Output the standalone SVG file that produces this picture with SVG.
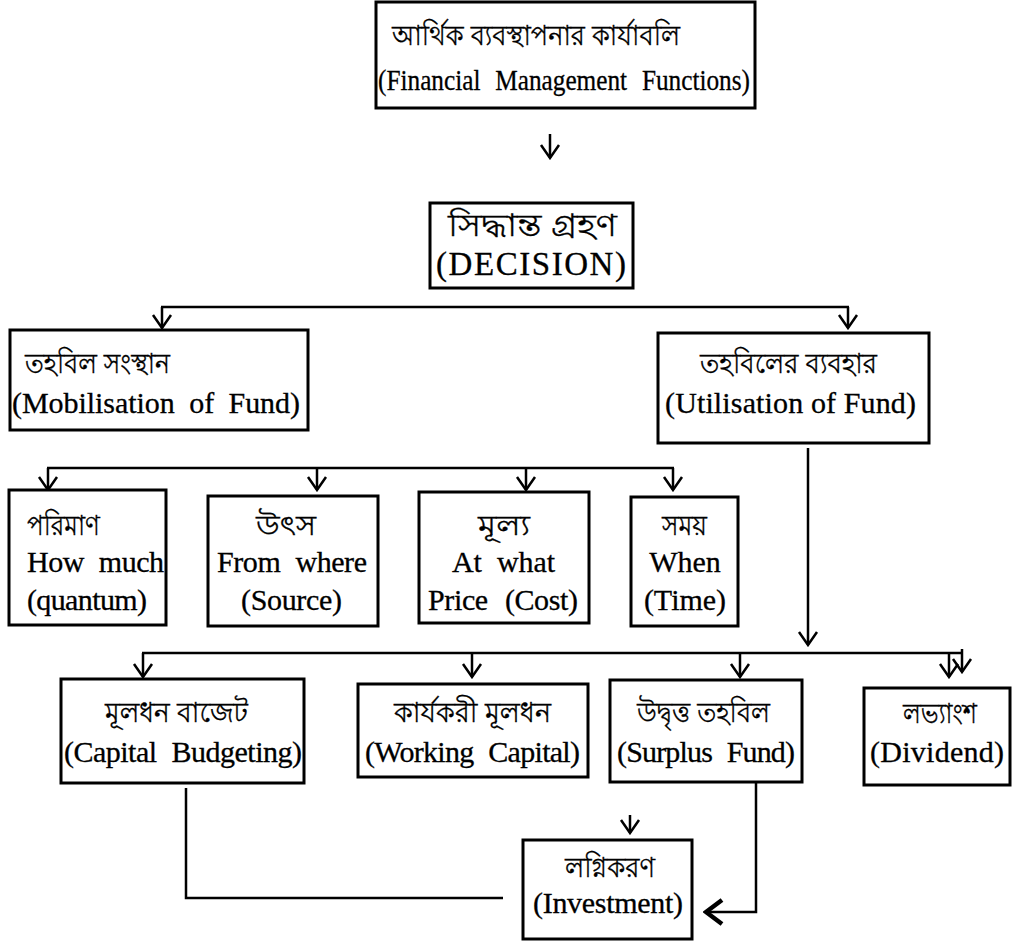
<svg xmlns="http://www.w3.org/2000/svg" width="1013" height="942" viewBox="0 0 1013 942">
<style>
.box{fill:#fff;stroke:#000;stroke-width:3}
.ln{fill:none;stroke:#000;stroke-width:2.5}
.en{font-family:'Liberation Serif','Times New Roman',serif;font-size:30px;fill:#000;stroke:#000;stroke-width:0.3}
.bn{font-family:'Lohit Bengali',sans-serif;font-size:28px;fill:#000;stroke:#000;stroke-width:0.3}
.c{text-anchor:middle}
</style>
<defs>
<marker id="arr" viewBox="-2 -2 17 22" refX="13" refY="9" markerWidth="17" markerHeight="22" markerUnits="userSpaceOnUse" orient="auto"><path d="M0,0 L13,9 L0,18" fill="none" stroke="#000" stroke-width="2.5"/></marker>
<marker id="arrb" viewBox="-3 -3 22 30" refX="16" refY="12" markerWidth="22" markerHeight="30" markerUnits="userSpaceOnUse" orient="auto"><path d="M0,0 L16,12 L0,24" fill="none" stroke="#000" stroke-width="4.5"/></marker>
</defs>
<rect width="1013" height="942" fill="#fff"/>
<g id="connectors">
<line class="ln" x1="550" y1="134" x2="550" y2="158" marker-end="url(#arr)"/>
<line class="ln" x1="161" y1="307" x2="849" y2="307"/>
<line class="ln" x1="162" y1="307" x2="162" y2="328" marker-end="url(#arr)"/>
<line class="ln" x1="848" y1="307" x2="848" y2="328" marker-end="url(#arr)"/>
<line class="ln" x1="47" y1="468" x2="674" y2="468"/>
<line class="ln" x1="48" y1="468" x2="48" y2="490" marker-end="url(#arr)"/>
<line class="ln" x1="317" y1="468" x2="317" y2="490" marker-end="url(#arr)"/>
<line class="ln" x1="526" y1="468" x2="526" y2="490" marker-end="url(#arr)"/>
<line class="ln" x1="673" y1="468" x2="673" y2="490" marker-end="url(#arr)"/>
<line class="ln" x1="808" y1="448" x2="808" y2="645" marker-end="url(#arr)"/>
<line class="ln" x1="142" y1="653" x2="961" y2="653"/>
<line class="ln" x1="143" y1="653" x2="143" y2="677" marker-end="url(#arr)"/>
<line class="ln" x1="472" y1="653" x2="472" y2="677" marker-end="url(#arr)"/>
<line class="ln" x1="740" y1="653" x2="740" y2="677" marker-end="url(#arr)"/>
<line class="ln" x1="949" y1="653" x2="949" y2="677" marker-end="url(#arr)"/>
<line class="ln" x1="962" y1="649" x2="962" y2="672" marker-end="url(#arr)"/>
<polyline class="ln" points="186,788 186,898 503,898"/>
<line class="ln" x1="630" y1="815" x2="630" y2="833" marker-end="url(#arr)"/>
<polyline class="ln" points="756,782 756,912 706,912" marker-end="url(#arrb)"/>
</g>
<g id="n-title">
<rect class="box" x="376" y="2" width="379" height="106"/>
<text class="bn" x="392" y="45" textLength="288" lengthAdjust="spacingAndGlyphs">আর্থিক ব্যবস্থাপনার কার্যাবলি</text>
<text class="en" x="378" y="90" word-spacing="10" textLength="372" lengthAdjust="spacingAndGlyphs">(Financial Management Functions)</text>
</g>
<g id="n-decision">
<rect class="box" x="430" y="203" width="203" height="85"/>
<text class="bn" x="448" y="236" style="font-size:30px" textLength="169" lengthAdjust="spacingAndGlyphs">সিদ্ধান্ত গ্রহণ</text>
<text class="en" x="436" y="275" style="font-size:33px" textLength="190" lengthAdjust="spacing">(DECISION)</text>
</g>
<g id="n-mobilisation">
<rect class="box" x="10" y="330" width="298" height="100"/>
<text class="bn" x="25" y="373" textLength="145" lengthAdjust="spacingAndGlyphs">তহবিল সংস্থান</text>
<text class="en" x="12" y="413" word-spacing="7" textLength="288" lengthAdjust="spacing">(Mobilisation of Fund)</text>
</g>
<g id="n-utilisation">
<rect class="box" x="658" y="333" width="271" height="110"/>
<text class="bn" x="700" y="373" textLength="177" lengthAdjust="spacingAndGlyphs">তহবিলের ব্যবহার</text>
<text class="en" x="665" y="413" textLength="251" lengthAdjust="spacing">(Utilisation of Fund)</text>
</g>
<g id="n-quantum">
<rect class="box" x="9" y="490" width="157" height="135"/>
<text class="bn" x="27" y="535" textLength="73" lengthAdjust="spacingAndGlyphs">পরিমাণ</text>
<text class="en" x="27" y="572" word-spacing="8" textLength="137" lengthAdjust="spacing">How much</text>
<text class="en" x="27" y="610" textLength="120" lengthAdjust="spacing">(quantum)</text>
</g>
<g id="n-source">
<rect class="box" x="208" y="496" width="170" height="130"/>
<text class="bn" x="256" y="535" textLength="60" lengthAdjust="spacingAndGlyphs">উৎস</text>
<text class="en" x="217" y="572" word-spacing="8" textLength="150" lengthAdjust="spacing">From where</text>
<text class="en" x="241" y="610" textLength="101" lengthAdjust="spacing">(Source)</text>
</g>
<g id="n-cost">
<rect class="box" x="419" y="492" width="170" height="131"/>
<text class="bn" x="478" y="535" textLength="52" lengthAdjust="spacingAndGlyphs">মূল্য</text>
<text class="en" x="452" y="572" word-spacing="8" textLength="103" lengthAdjust="spacing">At what</text>
<text class="en" x="428" y="610" word-spacing="10" textLength="150" lengthAdjust="spacing">Price (Cost)</text>
</g>
<g id="n-time">
<rect class="box" x="631" y="497" width="107" height="129"/>
<text class="bn" x="662" y="535" textLength="45" lengthAdjust="spacingAndGlyphs">সময়</text>
<text class="en c" x="685" y="572">When</text>
<text class="en c" x="685" y="610">(Time)</text>
</g>
<g id="n-capital-budgeting">
<rect class="box" x="61" y="679" width="243" height="104"/>
<text class="bn" x="105" y="722" textLength="143" lengthAdjust="spacingAndGlyphs">মূলধন বাজেট</text>
<text class="en" x="64" y="762" word-spacing="8" textLength="238" lengthAdjust="spacing">(Capital Budgeting)</text>
</g>
<g id="n-working-capital">
<rect class="box" x="358" y="684" width="230" height="93"/>
<text class="bn" x="394" y="722" textLength="157" lengthAdjust="spacingAndGlyphs">কার্যকরী মূলধন</text>
<text class="en" x="365" y="762" word-spacing="8" textLength="215" lengthAdjust="spacing">(Working Capital)</text>
</g>
<g id="n-surplus-fund">
<rect class="box" x="610" y="680" width="192" height="102"/>
<text class="bn" x="637" y="722" textLength="133" lengthAdjust="spacingAndGlyphs">উদ্বৃত্ত তহবিল</text>
<text class="en" x="617" y="762" word-spacing="8" textLength="178" lengthAdjust="spacing">(Surplus Fund)</text>
</g>
<g id="n-dividend">
<rect class="box" x="864" y="688" width="146" height="97"/>
<text class="bn" x="903" y="723" textLength="74" lengthAdjust="spacingAndGlyphs">লভ্যাংশ</text>
<text class="en" x="870" y="762" textLength="134" lengthAdjust="spacing">(Dividend)</text>
</g>
<g id="n-investment">
<rect class="box" x="523" y="840" width="169" height="99"/>
<text class="bn" x="565" y="877" textLength="90" lengthAdjust="spacingAndGlyphs">লগ্নিকরণ</text>
<text class="en" x="533" y="913" textLength="150" lengthAdjust="spacing">(Investment)</text>
</g>
</svg>
